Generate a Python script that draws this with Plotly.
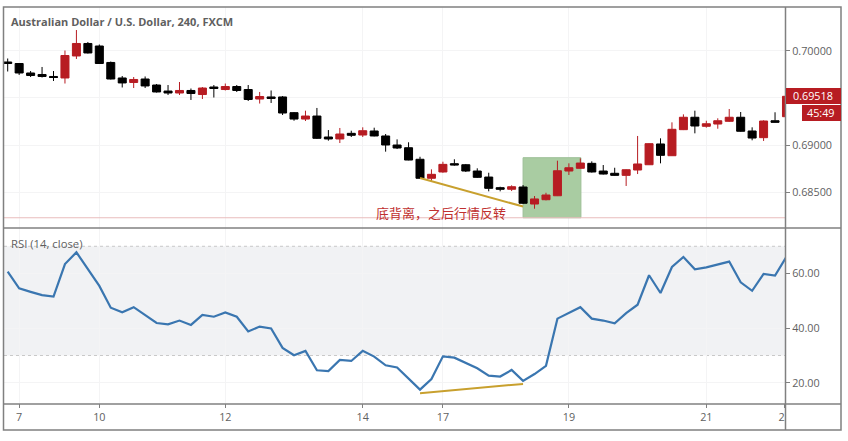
import plotly.graph_objects as go
from plotly.subplots import make_subplots

opens = [.69883,.69867,.69766,.69750,.69729,.69713,.69947,.70080,.70053,.69878,.69713,.69665,.69702,.69638,.69574,
         .69553,.69580,.69537,.69617,.69590,.69622,.69590,.69489,.69511,.69511,.69344,.69276,.69308,.69085,.69064,
         .69124,.69106,.69149,.69096,.69000,.68971,.68848,.68646,.68713,.68801,.68790,.68723,.68659,.68546,.68529,
         .68553,.68372,.68418,.68460,.68723,.68752,.68805,.68723,.68699,.68677,.68734,.68790,.69011,.68886,.69163,
         .69295,.69199,.69223,.69252,.69295,.69149,.69078,.69258,.69301]
highs = [.69920,.69872,.69787,.69830,.69787,.70005,.70223,.70096,.70069,.69888,.69734,.69723,.69729,.69649,.69638,
         .69670,.69601,.69617,.69638,.69654,.69638,.69638,.69564,.69580,.69521,.69351,.69365,.69394,.69159,.69181,
         .69152,.69188,.69184,.69117,.69060,.69029,.68875,.68741,.68822,.68848,.68798,.68752,.68705,.68556,.68571,
         .68574,.68457,.68492,.68833,.68805,.68858,.68826,.68787,.68758,.68741,.69096,.69018,.69071,.69241,.69326,
         .69365,.69258,.69284,.69383,.69351,.69188,.69262,.69348,.69521]
lows = [.69782,.69745,.69723,.69718,.69681,.69654,.69915,.69973,.69862,.69697,.69612,.69606,.69606,.69558,.69532,
        .69532,.69479,.69489,.69505,.69580,.69564,.69468,.69441,.69447,.69319,.69258,.69255,.69064,.69046,.69021,
        .69085,.69085,.69092,.68929,.68957,.68837,.68638,.68614,.68705,.68780,.68713,.68649,.68507,.68507,.68510,
        .68372,.68322,.68411,.68457,.68681,.68750,.68707,.68686,.68673,.68564,.68691,.68787,.68805,.68883,.69159,
        .69124,.69184,.69173,.69245,.69141,.69050,.69043,.69239,.69301]
closes = [.69867,.69766,.69739,.69729,.69718,.69952,.70080,.69979,.69867,.69702,.69660,.69697,.69628,.69564,.69553,
          .69580,.69548,.69606,.69601,.69622,.69580,.69484,.69516,.69495,.69340,.69276,.69308,.69071,.69064,.69117,
          .69103,.69152,.69096,.69000,.68968,.68840,.68646,.68688,.68794,.68787,.68723,.68656,.68539,.68529,.68556,
          .68380,.68426,.68468,.68726,.68758,.68808,.68713,.68691,.68677,.68737,.68798,.69014,.68890,.69167,.69295,
          .69202,.69226,.69258,.69295,.69146,.69074,.69255,.69241,.69518]
rsi = [60.7,54.6,53.3,52.1,51.6,63.5,67.8,61.6,55.5,47.5,45.8,47.7,44.7,41.9,41.4,42.8,41.2,44.9,44.2,45.8,44.2,38.8,40.6,
       39.9,32.8,30.1,31.7,24.6,24.3,28.4,28.0,31.7,29.6,26.4,25.6,21.4,17.5,21.4,29.7,29.2,27.3,25.3,22.6,22.3,24.7,20.7,
       23.2,26.2,43.5,45.5,47.7,43.5,42.8,41.8,45.5,48.6,59.4,52.9,62.4,66.1,61.6,62.3,63.3,64.4,56.8,53.7,59.9,59.3,66.2]

day_ticks = [1, 8, 19, 31, 38, 49, 61, 67.85]
day_labels = ["7", "10", "12", "14", "17", "19", "21", "22"]
price_ticks = [0.685, 0.69, 0.695, 0.70]
price_labels = ["0.68500", "0.69000", "", "0.70000"]
rsi_ticks = [20, 40, 60]
rsi_labels = ["20.00", "40.00", "60.00"]

div_x = [36, 45]
div_price = [0.68648, 0.68345]
div_rsi = [16.2, 19.6]
box_x = [45, 50.05]
box_price = [0.68226, 0.68865]
support_x = [-0.33, 68]
support_price = [0.68226, 0.68226]

RED = "#b71c22"
GOLD = "#c8a02e"
GREY = "#5f5f5f"
FRAME = "#808080"
FONT = "Open Sans"

# plot area in window pixels
L, R, T, B = 4, 785, 7, 403
SPLIT = 228


def px(x):
    return (x - L) / (R - L)


def py(y):
    return (B - y) / (B - T)


xs = list(range(len(closes)))

fig = make_subplots(rows=2, cols=1, shared_xaxes=True, vertical_spacing=0,
                    row_heights=[(SPLIT - T) / (B - T), (B - SPLIT) / (B - T)])

fig.add_trace(go.Candlestick(x=xs, open=opens, high=highs, low=lows, close=closes, whiskerwidth=0,
                             increasing=dict(line=dict(color=RED, width=1), fillcolor=RED),
                             decreasing=dict(line=dict(color="#000000", width=1), fillcolor="#000000")),
              row=1, col=1)
fig.add_trace(go.Scatter(x=support_x, y=support_price, mode="lines", line=dict(color="#e9bcbc", width=1)), row=1, col=1)
fig.add_trace(go.Scatter(x=div_x, y=div_price, mode="lines", line=dict(color=GOLD, width=2)), row=1, col=1)
fig.add_trace(go.Scatter(x=xs, y=rsi, mode="lines", line=dict(color="#3a76b0", width=2.2)), row=2, col=1)
fig.add_trace(go.Scatter(x=div_x, y=div_rsi, mode="lines", line=dict(color=GOLD, width=2)), row=2, col=1)

# green reversal box, and the 30-70 band
fig.add_shape(type="rect", x0=box_x[0], x1=box_x[1], y0=box_price[0], y1=box_price[1], xref="x", yref="y",
              fillcolor="#a9cca2", line=dict(color="#9dbf97", width=1), layer="between")
fig.add_shape(type="rect", x0=0, x1=1, y0=30, y1=70, xref="x domain", yref="y2",
              fillcolor="#f1f2f4", line=dict(width=0), layer="below")
for level in (30, 70):
    fig.add_shape(type="line", x0=0, x1=1, y0=level, y1=level, xref="x domain", yref="y2",
                  line=dict(color="#c9c9c9", width=1, dash="dot"), layer="below")

# frame and pane separators
frame = dict(color=FRAME, width=1.5)
fig.add_shape(type="rect", x0=px(786), x1=px(840), y0=py(404.5), y1=py(429.5), xref="paper", yref="paper",
              fillcolor="#ffffff", line=dict(width=0), layer="above")
fig.add_shape(type="rect", x0=px(3.5), x1=px(841), y0=py(430), y1=py(7), xref="paper", yref="paper",
              line=frame, layer="above")
fig.add_shape(type="line", x0=px(3.5), x1=px(841), y0=py(SPLIT), y1=py(SPLIT), xref="paper", yref="paper",
              line=frame, layer="above")
fig.add_shape(type="line", x0=px(3.5), x1=px(841), y0=py(404), y1=py(404), xref="paper", yref="paper",
              line=frame, layer="above")
fig.add_shape(type="line", x0=px(785.5), x1=px(785.5), y0=py(430), y1=py(7), xref="paper", yref="paper",
              line=frame, layer="above")


def label(x, y, text, **kw):
    base = dict(xref="paper", yref="paper", x=px(x), y=py(y), text=text, showarrow=False, xanchor="left",
                yanchor="middle", xshift=-1, font=dict(family=FONT, size=11, color=GREY))
    base.update(kw)
    fig.add_annotation(**base)


label(10, 22, "<b>Australian Dollar / U.S. Dollar, 240, FXCM</b>", font=dict(family=FONT, size=11, color=GREY))
label(10, 243, "RSI (14, close)", font=dict(family=FONT, size=11.3, color=GREY))
label(441.5, 212, "底背离，之后行情反转", xanchor="center",
      font=dict(family="Noto Sans CJK SC", size=13, color="#c0302f"))
fig.add_shape(type="rect", x0=px(786), x1=px(841), y0=py(104), y1=py(88), xref="paper", yref="paper",
              fillcolor=RED, line=dict(width=0), layer="above")
fig.add_shape(type="rect", x0=px(802), x1=px(841), y0=py(121), y1=py(105), xref="paper", yref="paper",
              fillcolor=RED, line=dict(width=0), layer="above")
label(813.5, 96, "0.69518", xanchor="center", font=dict(family=FONT, size=10.8, color="#ffffff"))
label(821.5, 113, "45:49", xanchor="center", font=dict(family=FONT, size=10.8, color="#ffffff"))

axis_font = dict(family=FONT, size=10.8, color=GREY)
grid = "#f4f4f5"
fig.update_xaxes(range=[-0.323, 67.87], showgrid=True, gridcolor=grid, zeroline=False, showline=False,
                 rangeslider_visible=False, tickvals=day_ticks, ticktext=day_labels)
fig.update_xaxes(ticks="", showticklabels=False, row=1, col=1)
fig.update_xaxes(ticks="outside", ticklen=4, tickcolor=FRAME, tickfont=axis_font, row=2, col=1)
fig.update_yaxes(side="right", showgrid=True, gridcolor=grid, zeroline=False, showline=False, ticks="outside",
                 ticklen=4, tickcolor=FRAME, tickfont=axis_font)
fig.update_yaxes(range=[0.68117, 0.70468], tickvals=price_ticks, ticktext=price_labels, row=1, col=1)
fig.update_yaxes(range=[12.6, 76.7], tickvals=rsi_ticks, ticktext=rsi_labels, row=2, col=1)

fig.update_layout(width=848, height=441, margin=dict(l=L, r=848 - R, t=T, b=441 - B), showlegend=False,
                  paper_bgcolor="#ffffff", plot_bgcolor="#ffffff", boxgap=0.3, boxgroupgap=0)

# the page has a default 8px body margin, drop it so the chart sits at the window corner
fig.write_html("out.html", config={"displayModeBar": False},
               post_script="document.body.style.margin='0';document.documentElement.style.overflow='hidden';")
